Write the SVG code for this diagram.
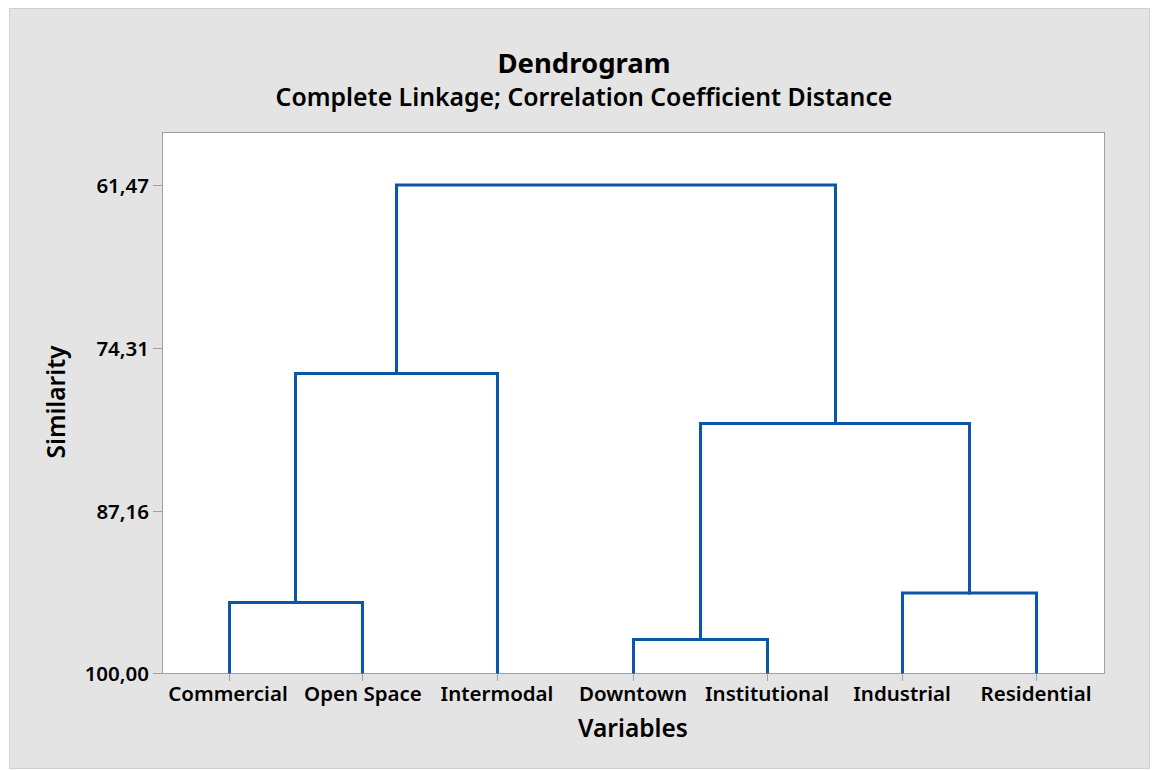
<svg xmlns="http://www.w3.org/2000/svg" width="1160" height="770" viewBox="0 0 1160 770">
  <style>
    .frame { fill: #e4e4e4; stroke: #d0d0d0; stroke-width: 1; }
    .plot { fill: #ffffff; stroke: #a0a0a0; stroke-width: 1; }
    .tick { stroke: #a0a0a0; stroke-width: 1; fill: none; }
    .link { stroke: #0a57a8; stroke-width: 3; fill: none; stroke-linejoin: miter; stroke-linecap: square; }
    text { font-family: "Noto Sans", "Open Sans", "DejaVu Sans", sans-serif; fill: #000000; }
    .title { font-size: 27.5px; font-weight: 700; text-anchor: middle; }
    .subtitle { font-size: 24.8px; font-weight: 600; text-anchor: middle; }
    .ylab { font-size: 20.5px; font-weight: 600; text-anchor: end; }
    .xlab { font-size: 20.5px; font-weight: 600; text-anchor: middle; }
    .axis { font-size: 24.5px; font-weight: 600; text-anchor: middle; }
  </style>

  <!-- background panel -->
  <rect class="frame" x="9.5" y="8.5" width="1140" height="760"/>

  <!-- titles -->
  <text class="title" x="584" y="73">Dendrogram</text>
  <text class="subtitle" x="584" y="106">Complete Linkage; Correlation Coefficient Distance</text>

  <!-- data region -->
  <rect class="plot" x="162.5" y="132.5" width="942" height="541"/>

  <!-- y axis ticks and labels -->
  <g id="y-axis">
    <path class="tick" d="M153 185.5H162 M153 348.5H162 M153 511.5H162 M153 673.5H162"/>
    <text class="ylab" x="149" y="193">61,47</text>
    <text class="ylab" x="149" y="356">74,31</text>
    <text class="ylab" x="149" y="519">87,16</text>
    <text class="ylab" x="149" y="681">100,00</text>
    <text class="axis" transform="translate(65,402) rotate(-90)">Similarity</text>
  </g>

  <!-- x axis ticks -->
  <g id="x-axis">
    <path class="tick" d="M229.5 674V681 M362.5 674V681 M497.5 674V681 M633.5 674V681 M767.5 674V681 M902.5 674V681 M1036.5 674V681"/>
    <text class="axis" x="633" y="737">Variables</text>
  </g>

  <!-- leaves -->
  <g id="commercial"><text class="xlab" x="228" y="701">Commercial</text></g>
  <g id="open-space"><text class="xlab" x="363" y="701">Open Space</text></g>
  <g id="intermodal"><text class="xlab" x="497" y="701">Intermodal</text></g>
  <g id="downtown"><text class="xlab" x="633" y="701">Downtown</text></g>
  <g id="institutional"><text class="xlab" x="767" y="701">Institutional</text></g>
  <g id="industrial"><text class="xlab" x="902" y="701">Industrial</text></g>
  <g id="residential"><text class="xlab" x="1036" y="701">Residential</text></g>

  <!-- cluster links -->
  <g id="links">
    <path class="link" d="M229.5 672V602.5H362.5V672"/>
    <path class="link" d="M633.5 672V639.5H767.5V672"/>
    <path class="link" d="M902.5 672V593H1036.5V672"/>
    <path class="link" d="M295.5 602.5V373.5H497.5V672"/>
    <path class="link" d="M700.5 639.5V423.5H969.5V593"/>
    <path class="link" d="M396.5 373.5V185H835.5V423.5"/>
  </g>
</svg>
